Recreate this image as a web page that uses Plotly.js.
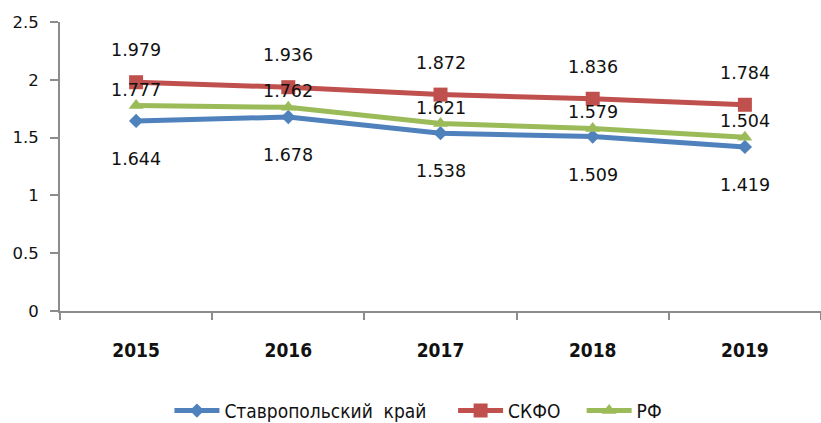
<!DOCTYPE html>
<html><head><meta charset="utf-8">
<script src="https://cdn.plot.ly/plotly-3.0.1.min.js"></script>
<style>html,body{margin:0;padding:0;background:#fff}#c{width:821px;height:423px}</style>
</head><body><div id="c"></div>
<script>
const years = ['2015', '2016', '2017', '2018', '2019'];
const stavropol = [1.644, 1.678, 1.538, 1.509, 1.419];
const skfo = [1.979, 1.936, 1.872, 1.836, 1.784];
const rf = [1.777, 1.762, 1.621, 1.579, 1.504];
const seriesNames = ['Ставропольский\u00a0 край', 'СКФО', 'РФ'];
const yTickVals = [0, 0.5, 1, 1.5, 2, 2.5];
const yTickText = ['0', '0.5', '1', '1.5', '2', '2.5'];

const colors = ['#4F81BD', '#C0504D', '#9BBB59'];
const symbols = ['diamond', 'square', 'triangle-up'];
const msizes = [11, 14, 13];
const labelShift = [-38, 32, 16];
const nameSuffix = ['\u00a0\u00a0\u00a0\u00a0', '\u00a0\u00a0\u00a0', ''];
const allSeries = [stavropol, skfo, rf];

const traces = allSeries.map((vals, i) => ({
  type: 'scatter', mode: 'lines+markers', x: years, y: vals, name: seriesNames[i] + nameSuffix[i],
  line: {color: colors[i], width: 5},
  marker: {symbol: symbols[i], size: msizes[i], color: colors[i]}
}));

const annotations = [];
allSeries.forEach((vals, i) => {
  vals.forEach((v, j) => {
    annotations.push({x: j, y: v, xref: 'x', yref: 'y', text: v.toFixed(3),
      showarrow: false, yshift: labelShift[i],
      font: {family: 'DejaVu Sans', size: 17.5, color: '#111'}});
  });
});

const layout = {
  width: 821, height: 423,
  margin: {l: 60, r: 0, t: 22, b: 112, autoexpand: false},
  paper_bgcolor: '#fff', plot_bgcolor: '#fff',
  showlegend: true,
  legend: {orientation: 'h', x: 0.471, xanchor: 'center', y: -0.345, yanchor: 'middle', itemwidth: 45,
    font: {family: 'DejaVu Sans Condensed', size: 19, color: '#111'}},
  xaxis: {type: 'category', range: [-0.5, 4.5], showline: true, linecolor: '#8c8c8c', linewidth: 2,
    ticks: 'outside', tickson: 'boundaries', ticklen: 7, tickcolor: '#8c8c8c', tickwidth: 2,
    showgrid: false, zeroline: false, ticklabelstandoff: 21, automargin: false,
    tickfont: {family: 'DejaVu Sans Condensed', size: 19, weight: 'bold', color: '#111'}},
  yaxis: {range: [0, 2.5], tickvals: yTickVals, ticktext: yTickText, showline: true,
    linecolor: '#8c8c8c', linewidth: 2, ticks: 'outside', ticklen: 8, tickcolor: '#8c8c8c', tickwidth: 2,
    showgrid: false, zeroline: false, ticklabelstandoff: 8, automargin: false,
    tickfont: {family: 'DejaVu Sans', size: 16.5, color: '#111'}},
  annotations: annotations
};
Plotly.newPlot('c', traces, layout, {displayModeBar: false, staticPlot: true});
</script></body></html>
